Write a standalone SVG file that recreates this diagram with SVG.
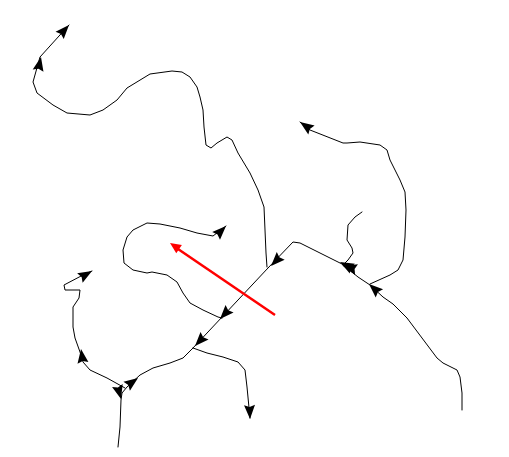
<svg xmlns="http://www.w3.org/2000/svg" xmlns:xlink="http://www.w3.org/1999/xlink" width="509" height="457" viewBox="0 0 509 457">
<style>
.ln{fill:none;stroke:#000;stroke-width:1;stroke-linejoin:round;stroke-linecap:round}
.ah{fill:#000}
.red{fill:none;stroke:#f00;stroke-width:2.5}
</style>
<defs>
<path id="ah" d="M0,0 L-14,-5.5 L-12,0 L-14,5.5 Z"/>
<path id="rah" d="M0,0 L-11,-5 L-11,5 Z"/>
</defs>
<rect width="509" height="457" fill="#fff"/>
<g id="connectors">
<polyline class="ln" points="267,267 266,253 265,230 264,207 258,190 250,173 238,153 232,140 227,137 217,143 211,148 206,145 204,127 203,110 200,97 197,87 190,77 182,72 172,71 150,74 127,88 117,100 103,110 90,115 67,113 53,105 37,93 33,82 40,57 69,25"/>
<polyline class="ln" points="222,318 218,317 203,310 190,303 183,293 177,282 167,275 152,272 147,273 133,270 124,263 123,250 127,237 133,230 147,223 160,224 180,228 197,233 213,236 226,226"/>
<polyline class="ln" points="462,410 462,393 460,377 457,370 443,363 437,358 422,338 407,318 393,304 383,297 370,285 358,277 342,264 300,243 293,242 268,268 193,348"/>
<polyline class="ln" points="370,284 390,275 398,270 403,260 405,237 406,210 405,192 400,180 390,160 387,150 380,145 360,142 347,143 343,143 310,130 300,122"/>
<polyline class="ln" points="362,212 355,217 348,225 347,240 352,248 353,253 348,260 343,265"/>
<polyline class="ln" points="193,348 207,353 223,357 238,362 245,370 247,387 250,418"/>
<polyline class="ln" points="193,348 183,358 170,363 153,368 140,375 127,387 122,393 121,400 120,427 118,447"/>
<polyline class="ln" points="125,388 107,378 90,370 83,362 80,352 75,338 73,327 73,307 79,298 80,290 65,290 64,285 83,275 92,271"/>
</g>
<g id="arrowheads" class="ah">
<use xlink:href="#ah" transform="translate(69,25) rotate(-48)"/>
<use xlink:href="#ah" transform="translate(41,57) rotate(-78)"/>
<use xlink:href="#ah" transform="translate(226,226) rotate(-45)"/>
<use xlink:href="#ah" transform="translate(271,266) rotate(134)"/>
<use xlink:href="#ah" transform="translate(220,319) rotate(133)"/>
<use xlink:href="#ah" transform="translate(195,346) rotate(133)"/>
<use xlink:href="#ah" transform="translate(250,419) rotate(88)"/>
<use xlink:href="#ah" transform="translate(81,349) rotate(-98)"/>
<use xlink:href="#ah" transform="translate(92,271) rotate(-30)"/>
<use xlink:href="#ah" transform="translate(138,378) rotate(-36)"/>
<use xlink:href="#ah" transform="translate(121,399) rotate(75)"/>
<use xlink:href="#ah" transform="translate(340,262) rotate(-152)"/>
<use xlink:href="#ah" transform="translate(343,266) rotate(-165)"/>
<use xlink:href="#ah" transform="translate(369,284) rotate(-138)"/>
<use xlink:href="#ah" transform="translate(300,122) rotate(-145)"/>
</g>
<g id="red-arrow">
<line class="red" x1="275" y1="315" x2="178" y2="249"/>
<use xlink:href="#rah" fill="#f00" transform="translate(170,243) rotate(-145.6)"/>
</g>
</svg>
